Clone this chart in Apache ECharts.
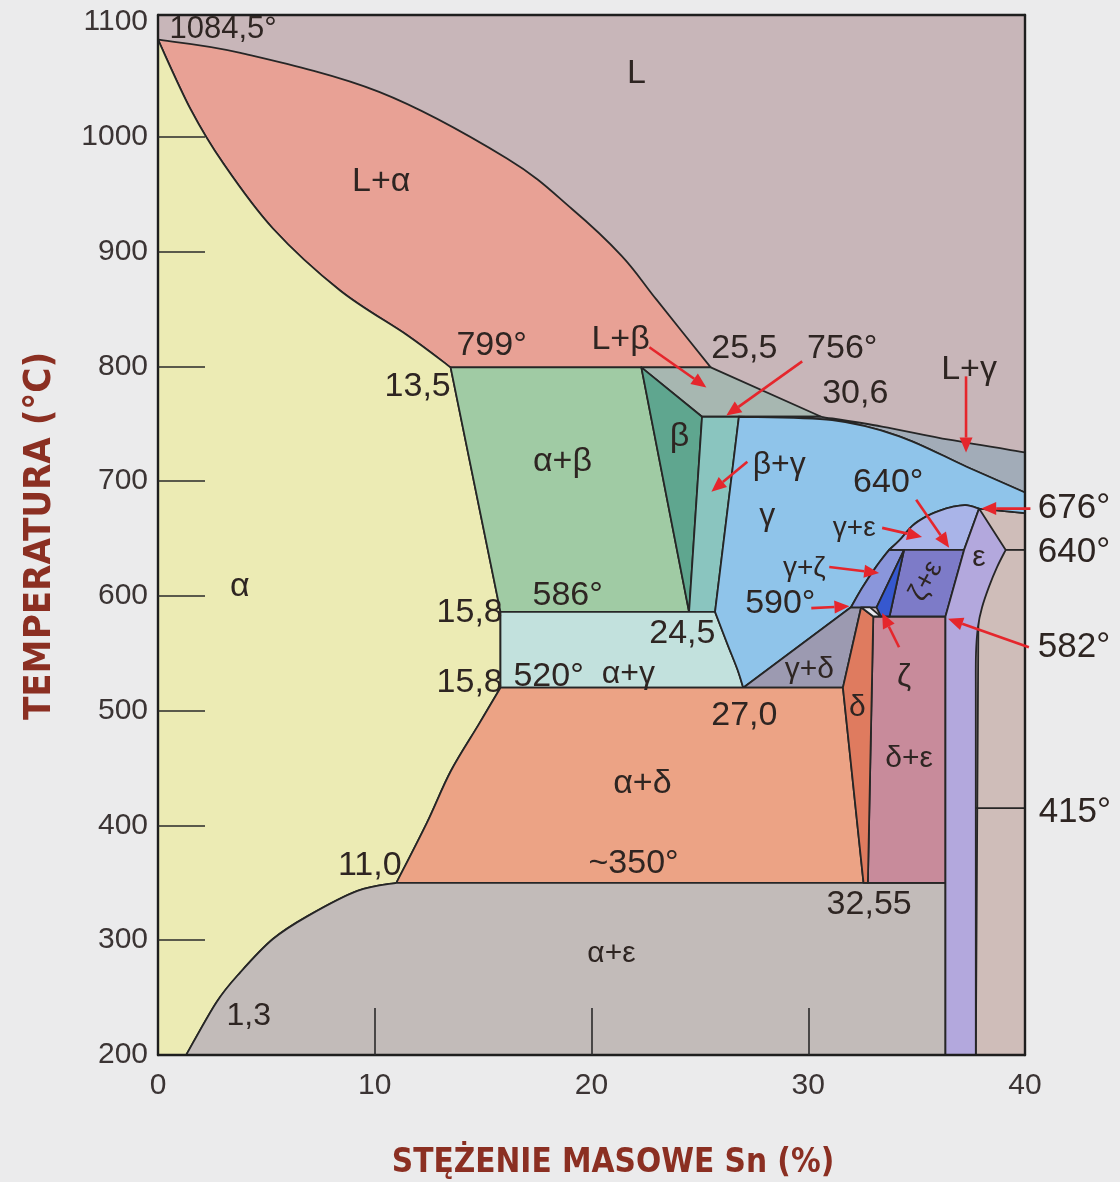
<!DOCTYPE html>
<html>
<head>
<meta charset="utf-8">
<script src="https://cdn.jsdelivr.net/npm/echarts@6/dist/echarts.min.js"></script>
<style>
  html, body { margin: 0; padding: 0; background: #ebebec; }
  #chart { width: 1120px; height: 1182px; }
</style>
</head>
<body>
<div id="chart"></div>
<script>
// ---- Cu–Sn equilibrium diagram, copper-rich side (0–40 % Sn) ----
// Every point is [Sn mass %, temperature °C].

const xTickLabels = [0, 10, 20, 30, 40];
const xTickMarks = [10, 20, 30];
const yTickLabels = [200, 300, 400, 500, 600, 700, 800, 900, 1000, 1100];
const yTickMarks = [300, 400, 500, 600, 700, 800, 900, 1000];

// phase boundaries (curved ones are drawn smoothly through their points)
const liquidusAlpha = [[0, 1084.5], [3.8, 1073], [10.2, 1039], [16.1, 981], [19.1, 937], [21.4, 896], [23.0, 858], [25.5, 799]];
const solidusAlpha = [[0, 1084.5], [1.5, 1024], [3.0, 977], [5.3, 920], [8.4, 866], [11.5, 827], [13.5, 799]];
const solvusAlphaBeta = [[13.5, 799], [15.8, 586]];
const solvusAlphaDelta = [[15.8, 520], [14.8, 488], [13.5, 447], [12.4, 402], [11.0, 350]];
const solvusAlphaEps = [[11.0, 350], [9.2, 343], [6.9, 321], [5.3, 301], [3.8, 272], [2.7, 246], [1.3, 200]];
const betaPoints = [[22.3, 799], [25.1, 756], [24.5, 586]];
const liquidusBeta = [[25.5, 799], [30.6, 756]];
const gammaLeft = [[26.8, 756], [25.7, 586]];
const gammaAlphaCurve = [[25.7, 586], [26.27, 558], [26.73, 536], [27.0, 520]];
const liquidusGamma = [[30.6, 756], [33.4, 747.5], [36.5, 736], [40, 725]];
const solidusGamma = [[26.8, 756], [31.1, 753], [34.2, 739], [37.3, 712.5], [40, 690]];
const peritectic676 = [[37.88, 676], [40, 672]];
const gammaArc = [[31.97, 590], [32.49, 607], [33.12, 625], [33.73, 640], [34.19, 648], [34.8, 661], [35.43, 669], [36.04, 674], [36.65, 677.5], [37.27, 679], [37.88, 676]];
const deltaLeft = [[32.44, 590], [31.6, 520], [32.55, 350]];
const deltaRight = [[33.0, 582], [32.75, 350]];
const epsLeft = [[36.33, 200], [36.33, 582], [37.19, 640], [37.88, 676]];
const epsRightTop = [[37.88, 676], [39.11, 640]];
const epsRightCurve = [[39.11, 640], [38.71, 625], [38.34, 608], [38.02, 590], [37.83, 573], [37.74, 550], [37.73, 520]];
const epsRightFoot = [37.73, 200];
const zetaPoints = [[34.42, 640], [33.15, 590], [33.35, 582], [33.75, 582]];
const deltaZetaPoints = [[32.44, 590], [32.85, 590], [33.35, 582], [33.0, 582]];
const isotherm415 = [[37.73, 415], [40, 415]];
const isotherm640 = [[39.11, 640], [40, 640]];

const rev = a => a.slice().reverse();
const S = pts => ({ pts, smooth: true });   // curved boundary piece
const P = pts => ({ pts, smooth: false });  // straight boundary piece

const C = {
  L: '#c8b6b9', right: '#cfbdb9', Lalpha: '#e8a195', alpha: '#ecebb4', alphaBeta: '#a0cba4',
  beta: '#5fa68f', betaGamma: '#8ac5bf', Lbeta: '#a7b7b1', Lgamma: '#a2acb8', gamma: '#8fc4ea',
  alphaGamma: '#c2e1dd', alphaDelta: '#eca385', alphaEps: '#c2bbb9', gammaDelta: '#9c9ab1',
  delta: '#df7b5f', deltaEps: '#c88b9b', zetaEps: '#7d7bc8', gammaZeta: '#8a96db', zeta: '#3658cf',
  gammaEps: '#a9b4e8', eps: '#b3a8dd', deltaZeta: '#e9e9ef'
};

// phase fields, built from the boundaries above
const regions = [
  { fill: C.Lalpha, parts: [S(liquidusAlpha), S(rev(solidusAlpha))] },
  { fill: C.alpha, parts: [S(solidusAlpha), P(solvusAlphaBeta), P([[15.8, 586], solvusAlphaDelta[0]]), S(solvusAlphaDelta), S(solvusAlphaEps), P([[1.3, 200], [0, 200]])] },
  { fill: C.alphaBeta, parts: [P([solvusAlphaBeta[0], betaPoints[0], betaPoints[2], solvusAlphaBeta[1]])] },
  { fill: C.Lbeta, parts: [P([betaPoints[0], ...liquidusBeta, betaPoints[1]])] },
  { fill: C.beta, parts: [P(betaPoints)] },
  { fill: C.betaGamma, parts: [P([betaPoints[1], ...gammaLeft, betaPoints[2]])] },
  { fill: C.alphaGamma, parts: [P([solvusAlphaBeta[1]]), S(gammaAlphaCurve), P([solvusAlphaDelta[0]])] },
  { fill: C.Lgamma, parts: [P([gammaLeft[0]]), S(liquidusGamma), S(rev(solidusGamma))] },
  { fill: C.right, parts: [P([...peritectic676, [40, 200], epsRightFoot])] },
  { fill: C.gamma, parts: [S(solidusGamma), P([peritectic676[1], peritectic676[0]]), S(rev(gammaArc)), P([gammaAlphaCurve[3]]), S(rev(gammaAlphaCurve)), P([gammaLeft[0]])] },
  { fill: C.gammaDelta, parts: [P([gammaAlphaCurve[3], deltaLeft[1], deltaLeft[0], gammaArc[0]])] },
  { fill: C.alphaDelta, parts: [P([solvusAlphaDelta[0], deltaLeft[1], deltaLeft[2], solvusAlphaDelta[4]]), S(rev(solvusAlphaDelta))] },
  { fill: C.alphaEps, parts: [S(solvusAlphaEps), P([epsLeft[0], [36.33, 350]])] },
  { fill: C.deltaEps, parts: [P([deltaRight[0], epsLeft[1], [36.33, 350], deltaRight[1]])] },
  { fill: C.delta, parts: [P([deltaLeft[0], deltaRight[0], deltaRight[1], deltaLeft[2], deltaLeft[1]])] },
  { fill: C.gammaZeta, parts: [S(gammaArc.slice(0, 4)), P([zetaPoints[0], zetaPoints[1]])] },
  { fill: C.gammaEps, parts: [S(gammaArc.slice(3)), P([epsLeft[2]])] },
  { fill: C.zetaEps, parts: [P([zetaPoints[0], epsLeft[2], epsLeft[1], zetaPoints[3]])] },
  { fill: C.zeta, parts: [P(zetaPoints)] },
  { fill: C.deltaZeta, parts: [P(deltaZetaPoints)] },
  { fill: C.eps, parts: [P(epsLeft), P(epsRightTop), S(epsRightCurve), P([epsRightFoot])] }
];

const extraLines = [isotherm415, isotherm640];

// text placed inside and beside the diagram: [text, Sn %, °C, size, rotation°]
const annotations = [
  ['1084,5°', 3.0, 1093, 31],
  ['L', 22.07, 1055, 34],
  ['L+α', 10.3, 961, 34],
  ['799°', 15.39, 818, 34],
  ['13,5', 11.98, 782, 34],
  ['L+β', 21.34, 823, 34],
  ['25,5', 27.05, 815.7, 34],
  ['756°', 31.57, 815.7, 34],
  ['30,6', 32.17, 776, 34],
  ['L+γ', 37.42, 797, 34],
  ['β', 24.06, 739, 34],
  ['α+β', 18.66, 717, 34],
  ['β+γ', 28.66, 714, 32],
  ['γ', 28.11, 669, 32],
  ['640°', 33.69, 698.6, 34],
  ['γ+ε', 32.12, 659, 28],
  ['γ+ζ', 29.82, 624, 28],
  ['590°', 28.71, 593.6, 34],
  ['ζ+ε', 35.44, 613, 28, 62],
  ['ε', 37.88, 633, 30],
  ['α', 3.78, 607.6, 34],
  ['586°', 18.9, 600.6, 34],
  ['15,8', 14.38, 585, 34],
  ['15,8', 14.38, 524.6, 34],
  ['520°', 18.02, 529.8, 34],
  ['α+γ', 21.7, 531.6, 32],
  ['24,5', 24.19, 567.4, 34],
  ['γ+δ', 30.05, 536, 30],
  ['27,0', 27.05, 495.7, 34],
  ['δ', 32.26, 502.7, 30],
  ['ζ', 34.42, 529, 32],
  ['δ+ε', 34.65, 458, 30],
  ['α+δ', 22.35, 436, 34],
  ['~350°', 21.94, 367, 34],
  ['11,0', 9.77, 364.6, 34],
  ['32,55', 32.81, 331.4, 34],
  ['α+ε', 20.92, 288.6, 30],
  ['1,3', 4.19, 233.5, 32],
  ['676°', 42.26, 676, 35],
  ['640°', 42.26, 638.2, 35],
  ['582°', 42.26, 555.2, 35],
  ['415°', 42.3, 411.8, 35]
];

// pointer arrows: [from, to]
const arrows = [
  [[22.67, 816.6], [25.3, 781.6]],
  [[29.72, 804.3], [26.22, 757]],
  [[37.28, 791.2], [37.28, 724.8]],
  [[27.19, 716.9], [25.53, 690.7]],
  [[34.98, 683.7], [36.5, 642]],
  [[33.41, 659.2], [35.25, 651.3]],
  [[30.97, 625.1], [33.27, 619.9]],
  [[30.14, 589.3], [31.9, 591]],
  [[34.19, 555.2], [33.41, 585]],
  [[40.25, 676], [37.98, 676]],
  [[40.18, 555.2], [36.45, 580]]
];

const INK = '#262626';
const TEXT = '#2e2522';
const RED = '#e5262c';
const FONT = '"Liberation Sans", Arial, sans-serif';
const TITLE_FONT = '"DejaVu Sans Condensed", "Liberation Sans Narrow", sans-serif';

// SVG path for a region outline: straight pieces use lines, curved pieces
// are drawn as Catmull-Rom splines through their points.
function outlinePath(parts, api) {
  let d = '';
  let cur = null;
  const f = v => v.toFixed(2);
  parts.forEach(part => {
    const px = part.pts.map(p => api.coord(p));
    px.forEach((q, i) => {
      if (cur === null) { d += 'M' + f(q[0]) + ' ' + f(q[1]); cur = q; return; }
      if (i === 0) {
        if (Math.abs(q[0] - cur[0]) > 0.01 || Math.abs(q[1] - cur[1]) > 0.01) d += 'L' + f(q[0]) + ' ' + f(q[1]);
        cur = q; return;
      }
      if (!part.smooth) { d += 'L' + f(q[0]) + ' ' + f(q[1]); cur = q; return; }
      const p0 = px[Math.max(i - 2, 0)], p1 = px[i - 1], p2 = q, p3 = px[Math.min(i + 1, px.length - 1)];
      const c1 = [p1[0] + (p2[0] - p0[0]) / 6, p1[1] + (p2[1] - p0[1]) / 6];
      const c2 = [p2[0] - (p3[0] - p1[0]) / 6, p2[1] - (p3[1] - p1[1]) / 6];
      d += 'C' + f(c1[0]) + ' ' + f(c1[1]) + ' ' + f(c2[0]) + ' ' + f(c2[1]) + ' ' + f(p2[0]) + ' ' + f(p2[1]);
      cur = q;
    });
  });
  return d + 'Z';
}

const chart = echarts.init(document.getElementById('chart'), null, { renderer: 'canvas' });

const baseAxis = {
  type: 'value', z: 10, splitLine: { show: false },
  axisLine: { show: true, onZero: false, lineStyle: { color: '#1e1e1e', width: 2.4 } }
};
const tickLabel = { color: '#3b3434', fontSize: 30, fontFamily: FONT, formatter: v => String(v) };

chart.setOption({
  animation: false,
  backgroundColor: '#ebebec',
  grid: { left: 158, top: 15, width: 867, height: 1040, show: true, backgroundColor: C.L, borderWidth: 0 },
  xAxis: [
    Object.assign({}, baseAxis, {
      min: 0, max: 40, position: 'bottom',
      axisTick: { show: true, inside: true, length: 47, customValues: xTickMarks, lineStyle: { color: '#2a2a2a', width: 1.6 } },
      axisLabel: Object.assign({ customValues: xTickLabels, margin: 16 }, tickLabel)
    }),
    Object.assign({}, baseAxis, { min: 0, max: 40, position: 'top', axisTick: { show: false }, axisLabel: { show: false } })
  ],
  yAxis: [
    Object.assign({}, baseAxis, {
      min: 200, max: 1106, position: 'left',
      axisTick: { show: true, inside: true, length: 47, customValues: yTickMarks, lineStyle: { color: '#2a2a2a', width: 1.6 } },
      axisLabel: Object.assign({ customValues: yTickLabels, margin: 10 }, tickLabel)
    }),
    Object.assign({}, baseAxis, { min: 200, max: 1106, position: 'right', axisTick: { show: false }, axisLabel: { show: false } })
  ],
  graphic: [
    {
      type: 'text', x: 40, y: 536, rotation: Math.PI / 2, z: 50,
      style: { text: 'TEMPERATURA (°C)', fill: '#8b2f22', font: 'bold 38px ' + TITLE_FONT, align: 'center', verticalAlign: 'middle' }
    },
    {
      type: 'text', x: 613, y: 1163, z: 50,
      style: { text: 'STĘŻENIE MASOWE Sn (%)', fill: '#8b2f22', font: 'bold 33px ' + TITLE_FONT, align: 'center', verticalAlign: 'middle' }
    }
  ],
  series: [
    {
      type: 'custom', name: 'fields', z: 2, xAxisIndex: 0, yAxisIndex: 0,
      data: regions.map(r => r.parts[0].pts[0]),
      renderItem: (params, api) => {
        const r = regions[params.dataIndex];
        return {
          type: 'path',
          shape: { pathData: outlinePath(r.parts, api) },
          style: { fill: r.fill, stroke: INK, lineWidth: 1.8, lineJoin: 'round' }
        };
      }
    },
    {
      type: 'custom', name: 'isotherms', z: 3, xAxisIndex: 0, yAxisIndex: 0,
      data: extraLines.map(l => l[0]),
      renderItem: (params, api) => ({
        type: 'polyline',
        shape: { points: extraLines[params.dataIndex].map(p => api.coord(p)) },
        style: { stroke: INK, lineWidth: 1.8, fill: null }
      })
    },
    {
      type: 'custom', name: 'arrows', z: 25, xAxisIndex: 0, yAxisIndex: 0, clip: false,
      data: arrows.map(a => a[1]),
      renderItem: (params, api) => {
        const a = arrows[params.dataIndex];
        const p0 = api.coord(a[0]), p1 = api.coord(a[1]);
        const dx = p1[0] - p0[0], dy = p1[1] - p0[1];
        const len = Math.hypot(dx, dy), ux = dx / len, uy = dy / len;
        const hl = 15, hw = 6.5;
        const b = [p1[0] - ux * hl, p1[1] - uy * hl];
        return {
          type: 'group',
          children: [
            { type: 'line', shape: { x1: p0[0], y1: p0[1], x2: b[0], y2: b[1] }, style: { stroke: RED, lineWidth: 2.6 } },
            { type: 'polygon', shape: { points: [p1, [b[0] - uy * hw, b[1] + ux * hw], [b[0] + uy * hw, b[1] - ux * hw]] }, style: { fill: RED } }
          ]
        };
      }
    },
    {
      type: 'custom', name: 'labels', z: 30, xAxisIndex: 0, yAxisIndex: 0, clip: false,
      data: annotations.map(a => [a[1], a[2]]),
      renderItem: (params, api) => {
        const a = annotations[params.dataIndex];
        const p = api.coord([a[1], a[2]]);
        return {
          type: 'text', x: p[0], y: p[1],
          rotation: (a[4] || 0) * Math.PI / 180,
          style: { text: a[0], fill: TEXT, font: a[3] + 'px ' + FONT, align: 'center', verticalAlign: 'middle' }
        };
      }
    }
  ]
});
</script>
</body>
</html>
